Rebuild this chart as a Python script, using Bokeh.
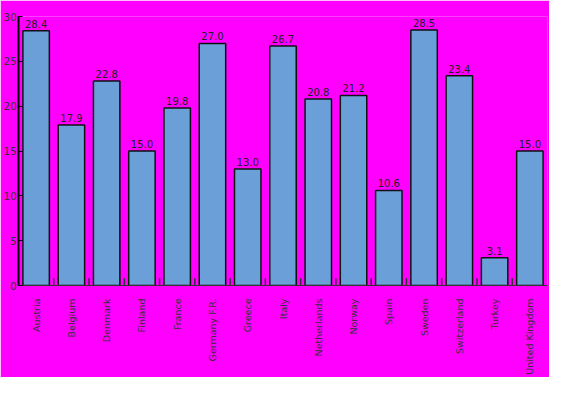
import math
from bokeh.plotting import figure
from bokeh.models import ColumnDataSource, Range1d, FixedTicker
from bokeh.transform import dodge
from bokeh.core.properties import value
from bokeh.embed import file_html
from bokeh.resources import INLINE

countries = ["Austria", "Belgium", "Denmark", "Finland", "France", "Germany F.R.", "Greece",
             "Italy", "Netherlands", "Norway", "Spain", "Sweden", "Switzerland", "Turkey",
             "United Kingdom"]
values = [28.4, 17.9, 22.8, 15.0, 19.8, 27.0, 13.0, 26.7, 20.8, 21.2, 10.6, 28.5, 23.4, 3.1, 15.0]
y_ticks = [0, 5, 10, 15, 20, 25, 30]

src = ColumnDataSource(dict(cat=countries, val=values,
                            lab=["%.1f" % v for v in values]))
bsrc = ColumnDataSource(dict(cat=countries[:-1], y0=[0] * (len(countries) - 1),
                             y1=[0.8] * (len(countries) - 1)))

p = figure(x_range=countries, y_range=Range1d(0, 30), width=549, height=377,
           output_backend="svg", toolbar_location=None,
           min_border_left=10, min_border_right=2, min_border_top=16, min_border_bottom=88)
p.x_range.range_padding = 0
p.background_fill_color = "#FF00FF"
p.border_fill_color = "#FF00FF"
p.outline_line_color = None
p.xgrid.grid_line_color = None
p.ygrid.grid_line_color = None

p.vbar(x="cat", top="val", width=0.75, source=src, fill_color="#6A9FD8",
       line_color="#111111", line_width=1.5)
p.text(x="cat", y="val", text="lab", source=src, text_align="center",
       text_baseline="bottom", y_offset=-3, text_font=value("DejaVu Sans"),
       text_font_size="10px", text_color="#222222")
p.segment(x0=dodge("cat", 0.5, range=p.x_range), y0="y0",
          x1=dodge("cat", 0.5, range=p.x_range), y1="y1", source=bsrc,
          line_color="#333333", line_width=1.5)

p.yaxis.ticker = FixedTicker(ticks=y_ticks)
p.yaxis.axis_line_color = "black"
p.yaxis.axis_line_width = 2
p.yaxis.major_tick_in = 4
p.yaxis.major_tick_out = 0
p.yaxis.minor_tick_line_color = None
p.yaxis.major_label_text_font = "DejaVu Sans"
p.yaxis.major_label_text_font_size = "10px"
p.yaxis.major_label_text_color = "#333333"
p.yaxis.major_label_standoff = 2

p.xaxis.axis_line_color = "#333333"
p.xaxis.axis_line_width = 1
p.xaxis.major_tick_line_color = None
p.xaxis.major_label_orientation = math.pi / 2
p.xaxis.major_label_text_font = "DejaVu Sans"
p.xaxis.major_label_text_font_size = "9.5px"
p.xaxis.major_label_text_color = "#333333"
p.xaxis.major_label_standoff = 7

open("out.html", "w").write(file_html(p, INLINE))
